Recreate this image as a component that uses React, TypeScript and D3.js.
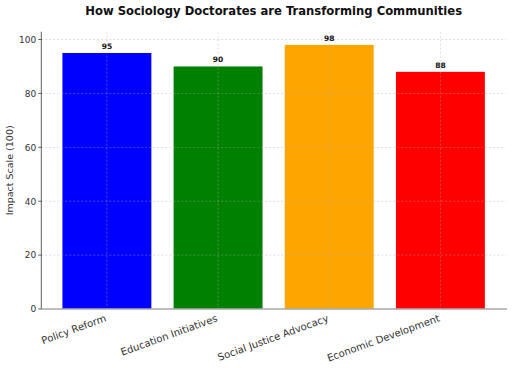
import React from "react";
import * as d3 from "d3";

const categories = ["Policy Reform", "Education Initiatives", "Social Justice Advocacy", "Economic Development"];
const values = [95, 90, 98, 88];
const colors = ["#0000ff", "#008000", "#ffa500", "#ff0000"];
const yTicks = [0, 20, 40, 60, 80, 100];

export default function App() {
  const W = 512, H = 368;
  const left = 41.3, right = 506, top = 31.7, bottom = 309;
  const x = d3.scaleBand<string>().domain(categories).range([left, right]).paddingInner(0.2).paddingOuter(0.19);
  const y = d3.scaleLinear().domain([0, 102.9]).range([bottom, top]);
  const font = "'DejaVu Sans', sans-serif";
  return (
    <svg width={W} height={H} style={{ position: "absolute", left: 0, top: 0, background: "#fff" }} fontFamily={font}>
      <text x={(left + right) / 2} y={15} textAnchor="middle" fontSize={11.6} fontWeight="bold" fill="#111">
        How Sociology Doctorates are Transforming Communities
      </text>
      {categories.map((c, i) => (
        <rect key={c} x={x(c)!} y={y(values[i])} width={x.bandwidth()} height={bottom - y(values[i])} fill={colors[i]} />
      ))}
      {yTicks.map((t) => (
        <line key={"gy" + t} x1={left} x2={right} y1={y(t)} y2={y(t)} stroke="#b0b0b0" strokeWidth={0.6} strokeDasharray="2,2" opacity={0.7} />
      ))}
      {categories.map((c) => {
        const cx = x(c)! + x.bandwidth() / 2;
        return <line key={"gx" + c} x1={cx} x2={cx} y1={top} y2={bottom} stroke="#b0b0b0" strokeWidth={0.6} strokeDasharray="2,2" opacity={0.7} />;
      })}
      {categories.map((c, i) => (
        <text key={"v" + c} x={x(c)! + x.bandwidth() / 2} y={y(values[i]) - 4} textAnchor="middle" fontSize={7.5} fontWeight="bold" fill="#111">
          {values[i]}
        </text>
      ))}
      <line x1={left} x2={left} y1={top} y2={bottom} stroke="#333" strokeWidth={0.8} />
      <line x1={left} x2={right + 1} y1={bottom} y2={bottom} stroke="#aaa" strokeWidth={1.5} />
      {yTicks.map((t) => (
        <g key={"t" + t}>
          <line x1={left - 3} x2={left} y1={y(t)} y2={y(t)} stroke="#333" strokeWidth={0.8} />
          <text x={left - 5} y={y(t) + 3.3} textAnchor="end" fontSize={9} fill="#333">{t}</text>
        </g>
      ))}
      {categories.map((c) => {
        const cx = x(c)! + x.bandwidth() / 2;
        return (
          <text key={"xl" + c} transform={`translate(${cx},${bottom + 12}) rotate(-20)`} textAnchor="end" fontSize={10} fill="#333">
            {c}
          </text>
        );
      })}
      <text transform={`translate(13,${(top + bottom) / 2}) rotate(-90)`} textAnchor="middle" fontSize={9.5} fill="#333">
        Impact Scale (100)
      </text>
    </svg>
  );
}
